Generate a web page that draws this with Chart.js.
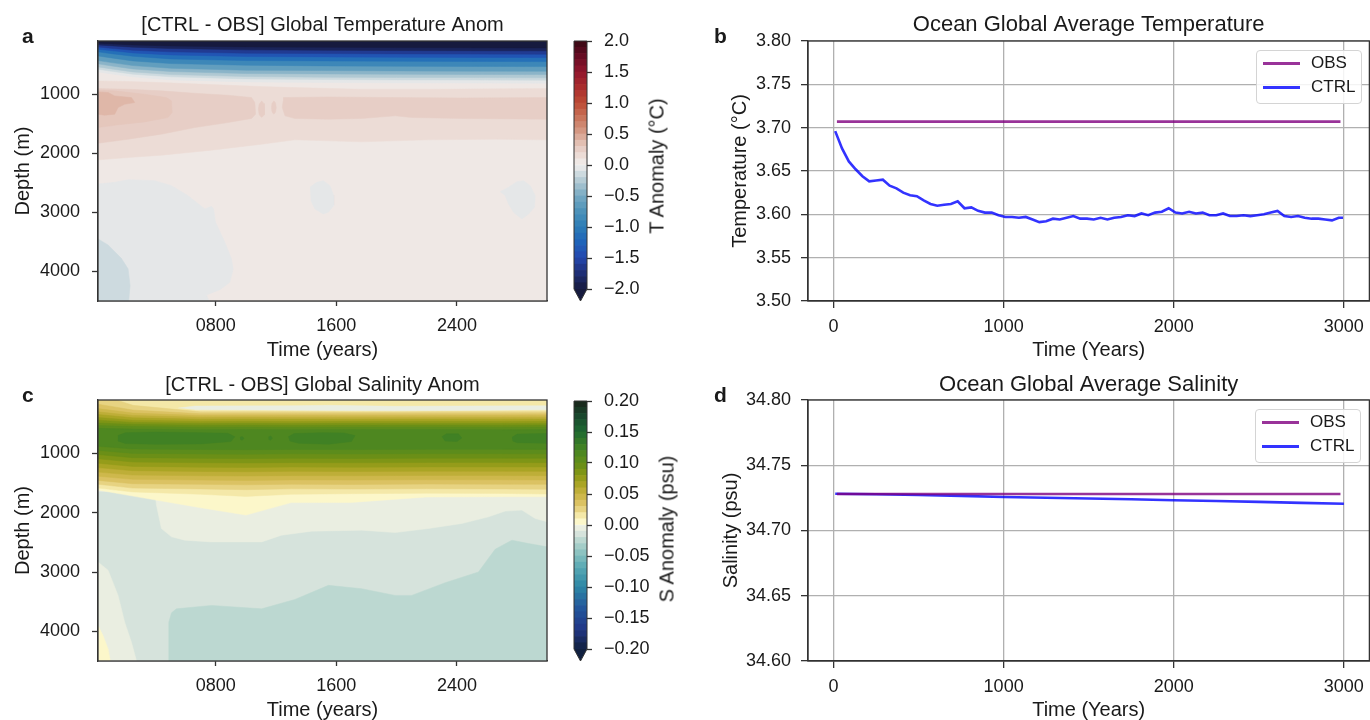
<!DOCTYPE html>
<html>
<head>
<meta charset="utf-8">
<title>Ocean temperature and salinity drift</title>
<script src="https://cdn.jsdelivr.net/npm/chart.js@4.4.1/dist/chart.umd.min.js"></script>
<style>
  html, body { margin: 0; padding: 0; background: #fff; }
  body { position: relative; width: 1370px; height: 720px; overflow: hidden;
         font-family: "Liberation Sans", Arial, Helvetica, sans-serif; color: #1a1a1a; }
  canvas { position: absolute; display: block; }
  .letter { position: absolute; font-weight: bold; font-size: 21px; line-height: 21px; }
  .cblabel { position: absolute; font-size: 20px; white-space: nowrap;
             transform: translate(-50%, -50%) rotate(-90deg); }
  .legend { position: absolute; width: 106px; height: 54px; box-sizing: border-box;
            border: 1px solid #d4d4d4; border-radius: 4px; background: rgba(255,255,255,0.85); }
  .legend .ln { position: absolute; left: 6px; width: 37px; height: 3px; }
  .legend .tx { position: absolute; left: 54px; font-size: 17px; line-height: 20px; }
</style>
</head>
<body>
<canvas id="tempMap" width="560" height="360" style="left:0;top:0"></canvas>
<canvas id="tempBar" width="140" height="360" style="left:560px;top:0"></canvas>
<canvas id="tempLine" width="672" height="360" style="left:700px;top:0"></canvas>
<canvas id="salMap" width="560" height="360" style="left:0;top:360px"></canvas>
<canvas id="salBar" width="140" height="360" style="left:560px;top:360px"></canvas>
<canvas id="salLine" width="672" height="360" style="left:700px;top:360px"></canvas>

<div class="letter" style="left:22px;top:25px">a</div>
<div class="letter" style="left:714px;top:25px">b</div>
<div class="letter" style="left:22px;top:384px">c</div>
<div class="letter" style="left:714px;top:384px">d</div>

<div class="cblabel" style="left:657px;top:166px">T Anomaly (°C)</div>
<div class="cblabel" style="left:667px;top:529px">S Anomaly (psu)</div>

<div class="legend" style="left:1256px;top:50px">
  <div class="ln" style="top:11px;background:rgba(128,0,128,0.8)"></div><div class="tx" style="top:2px">OBS</div>
  <div class="ln" style="top:35px;background:rgba(0,0,255,0.8)"></div><div class="tx" style="top:26px">CTRL</div>
</div>
<div class="legend" style="left:1255px;top:409px">
  <div class="ln" style="top:11px;background:rgba(128,0,128,0.8)"></div><div class="tx" style="top:2px">OBS</div>
  <div class="ln" style="top:35px;background:rgba(0,0,255,0.8)"></div><div class="tx" style="top:26px">CTRL</div>
</div>

<script>
// ---------- axis ticks ----------
var mapYearTicks = [800, 1600, 2400];
var mapYearLabels = ['0800', '1600', '2400'];
var depthTicks = [1000, 2000, 3000, 4000];
var lineYearTicks = [0, 1000, 2000, 3000];
var tempAxisTicks = [3.50, 3.55, 3.60, 3.65, 3.70, 3.75, 3.80];
var salAxisTicks = [34.60, 34.65, 34.70, 34.75, 34.80];
var tempBarTicks = [-2.0, -1.5, -1.0, -0.5, 0.0, 0.5, 1.0, 1.5, 2.0];
var salBarTicks = [-0.20, -0.15, -0.10, -0.05, 0.00, 0.05, 0.10, 0.15, 0.20];

// contour levels of the colour bars
var tempLevels = [-2.0, -1.9, -1.8, -1.7, -1.6, -1.5, -1.4, -1.3, -1.2, -1.1, -1.0, -0.9, -0.8, -0.7,
  -0.6, -0.5, -0.4, -0.3, -0.2, -0.1, 0.0, 0.1, 0.2, 0.3, 0.4, 0.5, 0.6, 0.7, 0.8, 0.9, 1.0, 1.1,
  1.2, 1.3, 1.4, 1.5, 1.6, 1.7, 1.8, 1.9, 2.0];
var salLevels = [-0.20, -0.19, -0.18, -0.17, -0.16, -0.15, -0.14, -0.13, -0.12, -0.11, -0.10, -0.09,
  -0.08, -0.07, -0.06, -0.05, -0.04, -0.03, -0.02, -0.01, 0.00, 0.01, 0.02, 0.03, 0.04, 0.05, 0.06,
  0.07, 0.08, 0.09, 0.10, 0.11, 0.12, 0.13, 0.14, 0.15, 0.16, 0.17, 0.18, 0.19, 0.20];

// ---------- panel b / d : global averages ----------
var obsTempYears = [20, 2980];
var obsTempValues = [3.707, 3.707];
var ctrlTempYears = [10, 50, 90, 130, 170, 210, 250, 290, 330, 370, 410, 450, 490, 530, 570, 610,
  650, 690, 730, 770, 810, 850, 890, 930, 970, 1010, 1050, 1090, 1130, 1170, 1210, 1250, 1290, 1330,
  1370, 1410, 1450, 1490, 1530, 1570, 1610, 1650, 1690, 1730, 1770, 1810, 1850, 1890, 1930, 1970,
  2010, 2050, 2090, 2130, 2170, 2210, 2250, 2290, 2330, 2370, 2410, 2450, 2490, 2530, 2570, 2610,
  2650, 2690, 2730, 2770, 2810, 2850, 2890, 2930, 2970, 2995];
var ctrlTempValues = [3.696, 3.676, 3.661, 3.652, 3.644, 3.638, 3.639, 3.640, 3.633, 3.630, 3.625,
  3.622, 3.621, 3.616, 3.612, 3.610, 3.611, 3.612, 3.615, 3.607, 3.608, 3.604, 3.602, 3.602, 3.599,
  3.597, 3.597, 3.596, 3.597, 3.594, 3.591, 3.592, 3.595, 3.594, 3.596, 3.598, 3.595, 3.595, 3.594,
  3.596, 3.594, 3.596, 3.597, 3.599, 3.598, 3.601, 3.599, 3.602, 3.603, 3.607, 3.602, 3.601, 3.603,
  3.601, 3.602, 3.599, 3.599, 3.601, 3.598, 3.598, 3.599, 3.598, 3.599, 3.600, 3.602, 3.604, 3.598,
  3.597, 3.598, 3.596, 3.595, 3.595, 3.594, 3.593, 3.596, 3.596];

var obsSalYears = [20, 2980];
var obsSalValues = [34.728, 34.728];
var ctrlSalYears = [10, 250, 500, 750, 1000, 1250, 1500, 1750, 2000, 2250, 2500, 2750, 3000];
var ctrlSalValues = [34.7282, 34.7278, 34.7272, 34.7265, 34.7257, 34.7251, 34.7245, 34.7239,
  34.7232, 34.7226, 34.7219, 34.7212, 34.7205];

// ---------- panel a : temperature anomaly (year, depth m) ----------
var tempNodes = [18, 120, 250, 500, 1000, 1500, 2000, 2500, 2998];
var tempSurfLevels = [0.0, -0.1, -0.2, -0.35, -0.5, -0.75, -1.0, -1.25, -1.5, -1.75, -2.0];
var tempSurfDepths = [
  [623, 662, 707, 758, 792, 803, 809, 812, 815],
  [578, 617, 662, 707, 741, 752, 758, 760, 764],
  [538, 578, 623, 668, 702, 713, 717, 719, 724],
  [487, 527, 572, 617, 651, 657, 662, 666, 668],
  [431, 470, 516, 561, 595, 600, 606, 610, 612],
  [352, 391, 437, 482, 510, 521, 527, 530, 533],
  [284, 318, 358, 403, 431, 437, 442, 446, 448],
  [239, 267, 301, 335, 363, 369, 375, 378, 380],
  [200, 228, 256, 284, 307, 313, 318, 322, 324],
  [166, 183, 205, 228, 250, 256, 262, 265, 267],
  [138, 149, 166, 183, 200, 205, 211, 214, 217]
];
var tempColdBlob = [[18, 2520], [129, 2492], [218, 2446], [395, 2463], [506, 2548], [616, 2717],
  [727, 2943], [771, 2898], [785, 2943], [798, 3168], [860, 3507], [904, 3789], [915, 3958],
  [893, 4184], [827, 4308], [738, 4398], [771, 4600], [18, 4600]];
var tempColdCorner = [[18, 3450], [85, 3552], [173, 3778], [218, 3958], [231, 4240], [218, 4600], [18, 4600]];
var tempColdSpotA = [[1425, 2576], [1469, 2492], [1513, 2463], [1558, 2548], [1582, 2717], [1582, 2886],
  [1547, 2999], [1513, 3027], [1458, 2943], [1431, 2802]];
var tempColdSpotB = [[2687, 2650], [2743, 2576], [2798, 2480], [2842, 2463], [2887, 2548], [2920, 2717],
  [2915, 2915], [2876, 3027], [2831, 3112], [2776, 2999], [2743, 2858], [2720, 2717]];
var tempWarmNodes = [18, 218, 439, 771, 1104, 1325, 1768, 2210, 2654, 2998];
var tempWarmTop = [775, 786, 803, 837, 871, 888, 916, 916, 910, 905];
var tempWarmBottom = [2112, 2072, 2033, 1948, 1847, 1773, 1807, 1773, 1762, 1773];
var tempWarmLeft = [[18, 905], [218, 916], [439, 944], [661, 984], [882, 1018], [1037, 1057],
  [1059, 1142], [1064, 1339], [1037, 1412], [882, 1480], [661, 1565], [439, 1677], [218, 1762], [18, 1830]];
var tempWarmRight = [[1247, 1057], [1547, 1046], [1990, 1057], [2433, 1063], [2998, 1057], [2998, 1424],
  [2433, 1412], [2100, 1395], [1990, 1367], [1768, 1412], [1547, 1424], [1325, 1412], [1259, 1367],
  [1241, 1226], [1247, 1113]];
var tempWarmDotA = [[1104, 1113], [1120, 1160], [1126, 1254], [1120, 1350], [1104, 1395], [1088, 1350],
  [1082, 1254], [1088, 1160]];
var tempWarmDotB = [[1185, 1113], [1197, 1150], [1201, 1226], [1197, 1300], [1185, 1339], [1173, 1300],
  [1169, 1226], [1173, 1150]];
var tempWarmCore = [[18, 933], [129, 944], [328, 1001], [472, 1057], [506, 1113], [510, 1311],
  [483, 1395], [328, 1469], [129, 1525], [18, 1565]];
var tempWarmCoreIn = [[18, 961], [85, 972], [129, 1029], [240, 1057], [262, 1142], [195, 1170],
  [151, 1226], [129, 1339], [62, 1356], [18, 1339]];

// ---------- panel c : salinity anomaly (year, depth m) ----------
var salNodes = [18, 250, 700, 1000, 1300, 1700, 2200, 2700, 2998];
var salBandLevels = [0.00, 0.01, 0.02, 0.03, 0.04, 0.05, 0.06, 0.07, 0.08, 0.09, 0.10, 0.11];
var salBandTop = [
  [0, 0, 0, 0, 0, 0, 0, 0, 0],
  [0, 0, 0, 0, 0, 0, 0, 0, 0],
  [0, 190, 300, 298, 300, 302, 300, 298, 300],
  [170, 270, 332, 330, 333, 331, 330, 332, 331],
  [245, 320, 362, 360, 361, 363, 360, 362, 360],
  [300, 360, 390, 388, 391, 389, 390, 392, 390],
  [345, 400, 423, 420, 422, 424, 421, 423, 422],
  [395, 440, 457, 455, 458, 456, 455, 458, 456],
  [440, 478, 490, 488, 491, 489, 490, 492, 490],
  [488, 512, 524, 522, 525, 523, 522, 525, 523],
  [530, 548, 558, 556, 559, 557, 556, 559, 557],
  [578, 590, 600, 598, 601, 599, 598, 601, 599]
];
var salBandBottom = [
  [1617, 1720, 1916, 2040, 1830, 1826, 1736, 1730, 1730],
  [1585, 1650, 1690, 1725, 1690, 1680, 1672, 1675, 1685],
  [1520, 1585, 1600, 1612, 1598, 1602, 1596, 1600, 1605],
  [1455, 1512, 1522, 1530, 1520, 1524, 1518, 1520, 1522],
  [1385, 1438, 1450, 1456, 1447, 1450, 1445, 1446, 1448],
  [1315, 1365, 1378, 1382, 1375, 1378, 1372, 1374, 1375],
  [1240, 1292, 1305, 1310, 1303, 1306, 1300, 1302, 1303],
  [1165, 1220, 1232, 1236, 1230, 1233, 1228, 1229, 1230],
  [1092, 1146, 1158, 1162, 1156, 1159, 1154, 1155, 1156],
  [1020, 1072, 1084, 1088, 1082, 1085, 1080, 1081, 1082],
  [950, 1000, 1010, 1014, 1008, 1011, 1006, 1007, 1008],
  [880, 925, 935, 938, 933, 936, 931, 932, 933]
];
var salCorePatches = [
  [[150, 700], [200, 650], [400, 640], [700, 650], [880, 660], [926, 720], [900, 800], [700, 840],
   [400, 845], [200, 835], [150, 790]],
  [[1281, 720], [1320, 665], [1500, 650], [1650, 655], [1724, 700], [1700, 800], [1550, 845],
   [1350, 830], [1290, 790]],
  [[2300, 720], [2330, 670], [2410, 670], [2433, 740], [2400, 800], [2320, 790]],
  [[2765, 730], [2800, 675], [2998, 665], [2998, 830], [2800, 820], [2770, 790]],
  [[960, 730], [975, 715], [988, 745], [975, 780], [962, 765]],
  [[1150, 720], [1165, 705], [1175, 745], [1162, 780], [1150, 760]]
];
var salFreshDeep = [[488, 4600], [488, 3845], [506, 3687], [539, 3620], [771, 3563], [1104, 3620],
  [1325, 3462], [1547, 3225], [1768, 3281], [1990, 3394], [2100, 3394], [2322, 3180], [2543, 3000],
  [2654, 2616], [2765, 2463], [2876, 2520], [2998, 2576], [2998, 4600]];
var salNearZero = [[18, 0], [2998, 0], [2998, 2153], [2920, 2097], [2831, 1956], [2721, 1973],
  [2610, 2069], [2433, 2181], [2211, 2266], [1990, 2334], [1768, 2294], [1436, 2311], [1236, 2379],
  [1104, 2492], [771, 2492], [594, 2463], [506, 2407], [439, 2266], [406, 1871], [395, 1640], [18, 1640]];
var salNearZeroLeft = [[18, 2830], [85, 2971], [151, 3394], [195, 3845], [240, 4184], [284, 4600], [18, 4600]];
var salSaltyCorner = [[18, 3902], [51, 4071], [85, 4296], [107, 4600], [18, 4600]];
var salStreak = [[550, 236], [661, 202], [1325, 196], [1547, 190], [1990, 207], [2433, 202], [2986, 196],
  [2998, 213], [2998, 264], [2433, 275], [1990, 281], [1547, 275], [1104, 269], [661, 264]];

// ---------- colour maps ----------
var balanceStops = [
  [0.000, 22, 26, 62], [0.060, 30, 45, 115], [0.125, 36, 72, 175], [0.190, 30, 100, 185],
  [0.250, 45, 125, 183], [0.310, 75, 145, 185], [0.375, 120, 170, 195], [0.430, 175, 200, 210],
  [0.470, 212, 222, 226], [0.500, 241, 237, 236], [0.530, 237, 224, 219], [0.560, 232, 208, 200],
  [0.600, 223, 183, 168], [0.625, 215, 160, 140], [0.690, 200, 115, 90], [0.750, 188, 75, 52],
  [0.810, 170, 45, 45], [0.875, 145, 22, 45], [0.940, 100, 12, 35], [1.000, 55, 8, 18]
];
var deltaStops = [
  [0.000, 17, 32, 64], [0.080, 33, 55, 135], [0.160, 35, 85, 155], [0.250, 45, 135, 165],
  [0.330, 90, 170, 180], [0.375, 130, 190, 190], [0.430, 180, 212, 205], [0.460, 212, 226, 219],
  [0.490, 236, 239, 226], [0.500, 246, 244, 214], [0.510, 253, 248, 205], [0.540, 243, 230, 165],
  [0.575, 225, 200, 110], [0.625, 200, 178, 65], [0.675, 160, 160, 28], [0.725, 115, 145, 20],
  [0.775, 85, 138, 30], [0.810, 65, 130, 35], [0.875, 30, 105, 50], [0.940, 25, 70, 45],
  [1.000, 25, 35, 25]
];

function cmap(stops, t) {
  t = Math.max(0, Math.min(1, t));
  for (var i = 1; i < stops.length; i++) {
    if (t <= stops[i][0]) {
      var a = stops[i - 1], b = stops[i], f = (t - a[0]) / (b[0] - a[0]);
      return 'rgb(' + Math.round(a[1] + (b[1] - a[1]) * f) + ',' + Math.round(a[2] + (b[2] - a[2]) * f) +
        ',' + Math.round(a[3] + (b[3] - a[3]) * f) + ')';
    }
  }
  var l = stops[stops.length - 1];
  return 'rgb(' + l[1] + ',' + l[2] + ',' + l[3] + ')';
}
function tColor(v) { return cmap(balanceStops, (v + 2) / 4); }
function sColor(v) { return cmap(deltaStops, (v + 0.2) / 0.4); }

// ---------- helpers ----------
Chart.defaults.font.family = '"Liberation Sans", Arial, Helvetica, sans-serif';
Chart.defaults.font.size = 18;
Chart.defaults.color = '#1a1a1a';
Chart.defaults.animation = false;

var framePlugin = {
  id: 'frame',
  afterDatasetsDraw: function (chart) {
    var a = chart.chartArea, ctx = chart.ctx;
    ctx.save();
    ctx.strokeStyle = '#333';
    ctx.lineWidth = 1.3;
    ctx.strokeRect(a.left, a.top, a.right - a.left, a.bottom - a.top);
    ctx.restore();
  }
};

// colour bar outline + "extend min" triangle
var cbarPlugin = {
  id: 'cbar',
  afterDatasetsDraw: function (chart, args, opts) {
    var a = chart.chartArea, ctx = chart.ctx;
    var cx = (a.left + a.right) / 2, tip = a.bottom + 12;
    ctx.save();
    ctx.fillStyle = opts.under;
    ctx.beginPath();
    ctx.moveTo(a.left, a.bottom);
    ctx.lineTo(a.right, a.bottom);
    ctx.lineTo(cx, tip);
    ctx.closePath();
    ctx.fill();
    ctx.strokeStyle = '#333';
    ctx.lineWidth = 1;
    ctx.beginPath();
    ctx.moveTo(a.left, a.top);
    ctx.lineTo(a.right, a.top);
    ctx.lineTo(a.right, a.bottom);
    ctx.lineTo(cx, tip);
    ctx.lineTo(a.left, a.bottom);
    ctx.closePath();
    ctx.stroke();
    ctx.restore();
  }
};

// Chart.js paints dataset 0 last, so each layer gets an explicit draw order
var layerCount = 0;
function poly(pts, color) {
  layerCount += 1;
  return {
    data: pts.map(function (p) { return { x: p[0], y: p[1] }; }),
    showLine: true, fill: 'shape', tension: 0, order: -layerCount,
    backgroundColor: color, borderColor: color, borderWidth: 0.5, pointRadius: 0
  };
}
function band(nodes, top, bottom) {
  var pts = nodes.map(function (x, i) { return [x, top[i]]; });
  for (var i = nodes.length - 1; i >= 0; i--) pts.push([nodes[i], bottom[i]]);
  return pts;
}
function zip(xs, ys) {
  return xs.map(function (x, i) { return { x: x, y: ys[i] }; });
}
function minus(s) { return s.replace('-', '\u2212'); }

var fullRect = [[18, 0], [2998, 0], [2998, 4600], [18, 4600]];

// ---------- panel a datasets ----------
var tempSets = [poly(fullRect, tColor(0.05))];
tempSurfLevels.forEach(function (lev, k) {
  var below = tempSurfLevels[k + 1];
  var v = below === undefined ? -2.5 : (lev + below) / 2;
  tempSets.push(poly(band(tempNodes, tempNodes.map(function () { return 0; }), tempSurfDepths[k]), tColor(v)));
});
[[tempColdBlob, -0.05], [tempColdCorner, -0.15], [tempColdSpotA, -0.05], [tempColdSpotB, -0.05]]
  .forEach(function (r) { tempSets.push(poly(r[0], tColor(r[1]))); });
tempSets.push(poly(band(tempWarmNodes, tempWarmTop, tempWarmBottom), tColor(0.15)));
[[tempWarmLeft, 0.25], [tempWarmRight, 0.25], [tempWarmDotA, 0.25], [tempWarmDotB, 0.25],
 [tempWarmCore, 0.3], [tempWarmCoreIn, 0.4]]
  .forEach(function (r) { tempSets.push(poly(r[0], tColor(r[1]))); });

// ---------- panel c datasets ----------
var salSets = [poly(fullRect, sColor(-0.015))];
[[salFreshDeep, -0.025], [salNearZero, -0.005], [salNearZeroLeft, -0.005], [salSaltyCorner, 0.005]]
  .forEach(function (r) { salSets.push(poly(r[0], sColor(r[1]))); });
salBandLevels.forEach(function (lev, k) {
  salSets.push(poly(band(salNodes, salBandTop[k], salBandBottom[k]), sColor(lev + 0.005)));
});
salCorePatches.forEach(function (p) { salSets.push(poly(p, sColor(0.125))); });
salSets.push(poly(salStreak, sColor(-0.005)));

// ---------- chart builders ----------
function makeMap(id, datasets, title, titleBottom) {
  new Chart(document.getElementById(id), {
    type: 'scatter',
    data: { datasets: datasets },
    options: {
      responsive: false,
      events: [],
      layout: { padding: { left: 0, right: 13, top: 0, bottom: 0 } },
      plugins: {
        legend: { display: false },
        tooltip: { enabled: false },
        title: { display: true, text: title, fullSize: false, color: '#1a1a1a',
                 font: { size: 20, weight: 'normal' }, padding: { top: 13, bottom: titleBottom } }
      },
      scales: {
        x: {
          type: 'linear', min: 18, max: 2998,
          afterBuildTicks: function (s) { s.ticks = mapYearTicks.map(function (v) { return { value: v }; }); },
          afterFit: function (s) { s.height = 59; },
          ticks: { autoSkip: false, maxRotation: 0, padding: 9,
                   callback: function (v) { return mapYearLabels[mapYearTicks.indexOf(v)]; } },
          grid: { drawOnChartArea: false, tickLength: 5, tickColor: '#333', tickWidth: 1.3 },
          border: { color: '#333', width: 1.3 },
          title: { display: true, text: 'Time (years)', font: { size: 20, lineHeight: 1 }, padding: { top: 0, bottom: 0 } }
        },
        y: {
          type: 'linear', reverse: true, min: 100, max: 4500,
          afterBuildTicks: function (s) { s.ticks = depthTicks.map(function (v) { return { value: v }; }); },
          afterFit: function (s) { s.width = 98; },
          ticks: { autoSkip: false, padding: 12, callback: function (v) { return String(v); } },
          grid: { drawOnChartArea: false, tickLength: 6, tickColor: '#333', tickWidth: 1.3 },
          border: { color: '#333', width: 1.3 },
          title: { display: true, text: 'Depth (m)', font: { size: 20 }, padding: { top: 11, bottom: 0 } }
        }
      }
    },
    plugins: [framePlugin]
  });
}

function makeBar(id, levels, colorFn, ticks, decimals, under) {
  var sets = [];
  for (var i = 0; i < levels.length - 1; i++) {
    sets.push({
      data: [[levels[i], levels[i + 1]]],
      backgroundColor: colorFn((levels[i] + levels[i + 1]) / 2),
      borderWidth: 0, grouped: false, barPercentage: 1, categoryPercentage: 1
    });
  }
  new Chart(document.getElementById(id), {
    type: 'bar',
    data: { labels: [''], datasets: sets },
    options: {
      responsive: false,
      events: [],
      layout: { padding: { left: 14, right: 0, top: 41, bottom: 71 } },
      plugins: { legend: { display: false }, tooltip: { enabled: false }, cbar: { under: under } },
      scales: {
        x: { display: false },
        y: {
          position: 'right', min: levels[0], max: levels[levels.length - 1],
          afterBuildTicks: function (s) { s.ticks = ticks.map(function (v) { return { value: v }; }); },
          afterFit: function (s) { s.width = 113; },
          ticks: { autoSkip: false, padding: 12, callback: function (v) { return minus(v.toFixed(decimals)); } },
          grid: { drawOnChartArea: false, tickLength: 5, tickColor: '#333', tickWidth: 1.3 },
          border: { display: false }
        }
      }
    },
    plugins: [cbarPlugin]
  });
}

function makeLine(id, cfg) {
  new Chart(document.getElementById(id), {
    type: 'scatter',
    data: {
      datasets: [
        { label: 'OBS', data: zip(cfg.obsX, cfg.obsY), showLine: true, pointRadius: 0,
          borderColor: 'rgba(128,0,128,0.8)', borderWidth: 2.6 },
        { label: 'CTRL', data: zip(cfg.ctrlX, cfg.ctrlY), showLine: true, pointRadius: 0,
          borderColor: 'rgba(0,0,255,0.8)', borderWidth: 2.6 }
      ]
    },
    options: {
      responsive: false,
      events: [],
      layout: { padding: 0 },
      plugins: {
        legend: { display: false },
        tooltip: { enabled: false },
        title: { display: true, text: cfg.title, fullSize: false, color: '#1a1a1a',
                 font: { size: 22, weight: 'normal' }, padding: { top: 12, bottom: cfg.titleBottom } }
      },
      scales: {
        x: {
          type: 'linear', min: -150, max: 3150,
          afterBuildTicks: function (s) { s.ticks = lineYearTicks.map(function (v) { return { value: v }; }); },
          afterFit: function (s) { s.height = 59; },
          ticks: { autoSkip: false, maxRotation: 0, padding: 8, callback: function (v) { return String(v); } },
          grid: { color: '#b0b0b0', lineWidth: 1.3, tickLength: 7, tickColor: '#333', tickWidth: 1.3 },
          border: { color: '#333', width: 1.3 },
          title: { display: true, text: 'Time (Years)', font: { size: 20, lineHeight: 1 }, padding: { top: 0, bottom: 0 } }
        },
        y: {
          type: 'linear', min: cfg.yMin, max: cfg.yMax,
          afterBuildTicks: function (s) { s.ticks = cfg.yTicks.map(function (v) { return { value: v }; }); },
          afterFit: function (s) { s.width = 108; },
          ticks: { autoSkip: false, padding: 10, callback: function (v) { return v.toFixed(2); } },
          grid: { color: '#b0b0b0', lineWidth: 1.3, tickLength: 7, tickColor: '#333', tickWidth: 1.3 },
          border: { color: '#333', width: 1.3 },
          title: { display: true, text: cfg.yTitle, font: { size: 20 }, padding: { top: cfg.yTitlePad, bottom: 0 } }
        }
      }
    },
    plugins: [framePlugin]
  });
}

// ---------- draw ----------
makeMap('tempMap', tempSets, '[CTRL - OBS] Global Temperature Anom', 4);
makeBar('tempBar', tempLevels, tColor, tempBarTicks, 1, tColor(-2.5));
makeLine('tempLine', {
  title: 'Ocean Global Average Temperature', titleBottom: 2.6,
  yTitle: 'Temperature (°C)', yTitlePad: 28, yMin: 3.5, yMax: 3.8, yTicks: tempAxisTicks,
  obsX: obsTempYears, obsY: obsTempValues, ctrlX: ctrlTempYears, ctrlY: ctrlTempValues
});
makeMap('salMap', salSets, '[CTRL - OBS] Global Salinity Anom', 3);
makeBar('salBar', salLevels, sColor, salBarTicks, 2, sColor(-0.25));
makeLine('salLine', {
  title: 'Ocean Global Average Salinity', titleBottom: 1.6,
  yTitle: 'Salinity (psu)', yTitlePad: 19, yMin: 34.6, yMax: 34.8, yTicks: salAxisTicks,
  obsX: obsSalYears, obsY: obsSalValues, ctrlX: ctrlSalYears, ctrlY: ctrlSalValues
});
</script>
</body>
</html>
